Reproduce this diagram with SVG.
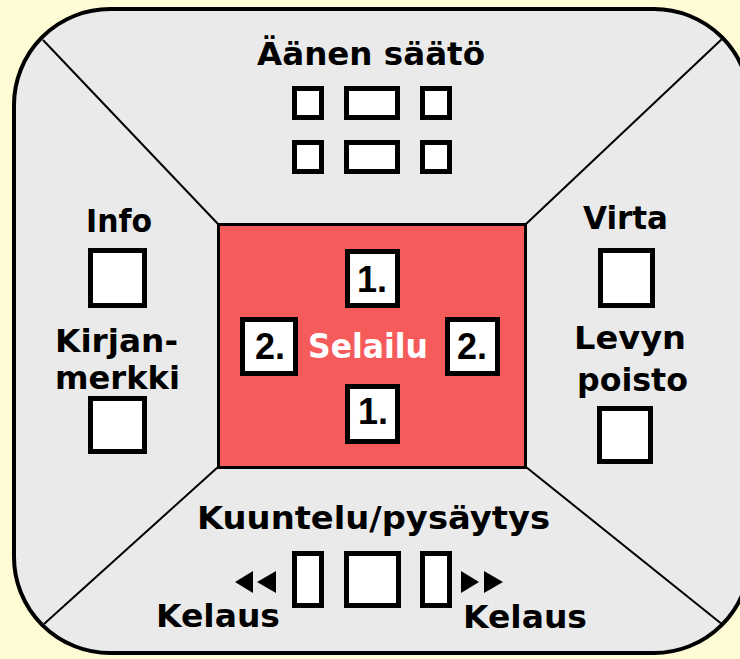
<svg xmlns="http://www.w3.org/2000/svg" width="740" height="659" viewBox="0 0 740 659">
<style>
.t{font-family:"DejaVu Sans","Liberation Sans",Arial,sans-serif;font-weight:bold;font-size:32px;fill:#000}
.n{font-family:"Liberation Sans",Arial,sans-serif;font-weight:bold;font-size:36px;fill:#000;text-anchor:middle}
.w{font-family:"DejaVu Sans","Liberation Sans",Arial,sans-serif;font-weight:bold;font-size:33px;fill:#fff}
.b{fill:#fff;stroke:#000;stroke-width:5}
.d{stroke:#000;stroke-width:2;fill:none}
</style>
<rect width="740" height="659" fill="#FFFCD5"/>
<g id="panel">
<rect x="14" y="9" width="736" height="644" rx="96" ry="96" fill="#EAEAEA" stroke="#000" stroke-width="4"/>
</g>
<g id="connectors">
<line class="d" x1="43" y1="40" x2="218" y2="224"/>
<line class="d" x1="722" y1="39" x2="526" y2="224"/>
<line class="d" x1="44" y1="624" x2="218" y2="467"/>
<line class="d" x1="723" y1="625" x2="526" y2="467"/>
</g>
<g id="selailu">
<rect x="218.5" y="224.5" width="307" height="243" fill="#F65B5B" stroke="#000" stroke-width="3"/>
<text class="w" x="308" y="358" textLength="120" lengthAdjust="spacingAndGlyphs">Selailu</text>
</g>
<g id="selailu-up">
<rect class="b" x="347.5" y="251.5" width="50" height="54"/>
<text class="n" x="372" y="292">1.</text>
</g>
<g id="selailu-down">
<rect class="b" x="347.5" y="386.5" width="50" height="55"/>
<text class="n" x="373" y="424">1.</text>
</g>
<g id="selailu-left">
<rect class="b" x="242.5" y="319.5" width="53" height="54"/>
<text class="n" x="270" y="359">2.</text>
</g>
<g id="selailu-right">
<rect class="b" x="447.5" y="319.5" width="50" height="54"/>
<text class="n" x="472" y="359">2.</text>
</g>
<g id="aanensaato">
<text class="t" x="257" y="65" textLength="228" lengthAdjust="spacingAndGlyphs">Äänen säätö</text>
<rect class="b" x="294.5" y="88.5" width="27" height="29"/>
<rect class="b" x="346.5" y="88.5" width="51" height="29"/>
<rect class="b" x="422.5" y="88.5" width="27" height="29"/>
<rect class="b" x="294.5" y="142.5" width="27" height="29"/>
<rect class="b" x="346.5" y="142.5" width="51" height="29"/>
<rect class="b" x="422.5" y="142.5" width="27" height="29"/>
</g>
<g id="info">
<text class="t" x="86" y="232" textLength="66" lengthAdjust="spacingAndGlyphs">Info</text>
<rect class="b" x="90.5" y="250.5" width="54" height="55"/>
</g>
<g id="kirjanmerkki">
<text class="t" x="55" y="352" textLength="123" lengthAdjust="spacingAndGlyphs">Kirjan-</text>
<text class="t" x="55" y="389" textLength="125" lengthAdjust="spacingAndGlyphs">merkki</text>
<rect class="b" x="90.5" y="398.5" width="54" height="53"/>
</g>
<g id="virta">
<text class="t" x="583" y="229" textLength="85" lengthAdjust="spacingAndGlyphs">Virta</text>
<rect class="b" x="600.5" y="250.5" width="52" height="55"/>
</g>
<g id="levynpoisto">
<text class="t" x="574" y="349" textLength="112" lengthAdjust="spacingAndGlyphs">Levyn</text>
<text class="t" x="577" y="391" textLength="111" lengthAdjust="spacingAndGlyphs">poisto</text>
<rect class="b" x="599.5" y="408.5" width="51" height="53"/>
</g>
<g id="kuuntelu">
<text class="t" x="197" y="529" textLength="353" lengthAdjust="spacingAndGlyphs">Kuuntelu/pysäytys</text>
<rect class="b" x="346.5" y="553.5" width="52" height="52"/>
</g>
<g id="kelaus-taakse">
<rect class="b" x="294.5" y="553.5" width="27" height="52"/>
<polygon points="235,582 253,571 253,593"/>
<polygon points="257,582 276,571 276,593"/>
<text class="t" x="156" y="627" textLength="124" lengthAdjust="spacingAndGlyphs">Kelaus</text>
</g>
<g id="kelaus-eteen">
<rect class="b" x="422.5" y="553.5" width="27" height="52"/>
<polygon points="461,571 461,593 479,582"/>
<polygon points="484,571 484,593 503,582"/>
<text class="t" x="463" y="628" textLength="124" lengthAdjust="spacingAndGlyphs">Kelaus</text>
</g>
</svg>
